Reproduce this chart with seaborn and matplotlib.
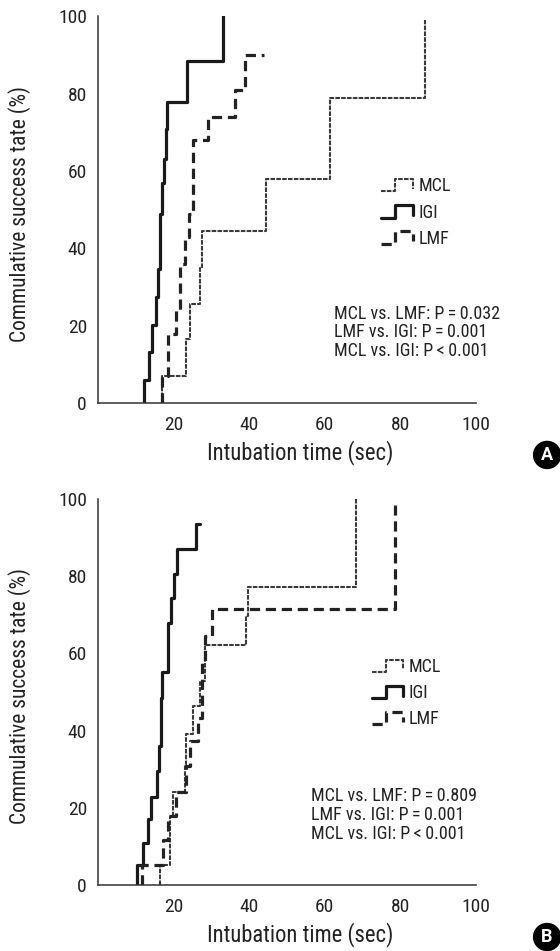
import numpy as np
import pandas as pd
import matplotlib
matplotlib.use("Agg")
import matplotlib.pyplot as plt
import seaborn as sns
from matplotlib.lines import Line2D
from matplotlib.legend_handler import HandlerBase

sns.set_theme(style="white")
plt.rcParams['font.family'] = ['Roboto Condensed', 'Liberation Sans Narrow', 'Roboto', 'DejaVu Sans']

# Panel A : temps (sec) et taux cumulés (%)
a_mcl_time = [16.8, 16.8, 23.4, 24.4, 26.9, 27.5, 44.5, 61.3, 86.6]
a_mcl_pct = [0, 7.0, 16.6, 25.7, 35.0, 44.4, 58.0, 78.8, 99.0]
a_igi_time = [12.2, 12.2, 13.5, 14.4, 15.3, 15.9, 16.4, 17.0, 17.5, 17.9, 18.3, 23.5, 33.1]
a_igi_pct = [0, 5.9, 13.2, 20.1, 27.4, 34.7, 48.9, 56.9, 63.1, 70.9, 77.9, 88.5, 100]
a_lmf_time = [17.0, 17.0, 18.5, 20.7, 21.6, 22.9, 24.1, 25.0, 29.1, 36.3, 39.0, 43.8]
a_lmf_pct = [0, 7.0, 18.0, 24.0, 36.0, 43.0, 49.0, 68.0, 74.0, 81.0, 90.0, 90.0]

# Panel B
b_mcl_time = [16.5, 16.5, 19.1, 19.8, 23.0, 23.3, 25.0, 26.9, 28.2, 39.1, 39.7, 68.2]
b_mcl_pct = [0, 5.2, 17.7, 24.2, 31.1, 39.0, 46.3, 52.9, 62.2, 69.6, 77.2, 100]
b_igi_time = [10.4, 10.4, 11.9, 13.1, 13.9, 15.6, 16.1, 16.6, 17.0, 18.5, 19.2, 20.1, 21.0, 26.0, 27.1]
b_igi_pct = [0, 5.2, 11.0, 17.0, 22.9, 29.4, 35.9, 48.4, 55.1, 67.8, 74.3, 80.6, 87.1, 93.6, 93.6]
b_lmf_time = [11.7, 11.7, 17.2, 18.5, 20.7, 23.4, 24.3, 26.5, 27.6, 28.2, 30.2, 78.5]
b_lmf_pct = [0, 5.2, 11.7, 18.0, 24.2, 30.7, 37.2, 43.2, 57.5, 64.4, 71.5, 98.5]

groups = ["MCL", "IGI", "LMF"]
pvals_a = ["MCL vs. LMF: P\u2009=\u20090.032", "LMF vs. IGI: P\u2009=\u20090.001", "MCL vs. IGI: P\u2009<\u20090.001"]
pvals_b = ["MCL vs. LMF: P\u2009=\u20090.809", "LMF vs. IGI: P\u2009=\u20090.001", "MCL vs. IGI: P\u2009<\u20090.001"]

styles = {
    "MCL": dict(color="#3a3a3a", linewidth=1.5, linestyle=(0, (2.2, 0.6))),
    "IGI": dict(color="#1a1a1a", linewidth=2.3, linestyle="-"),
    "LMF": dict(color="#222222", linewidth=2.3, linestyle=(0, (3.2, 1.8))),
}


class StepHandler(HandlerBase):
    # petit escalier dans la légende
    def create_artists(self, legend, orig_handle, xdescent, ydescent, width, height, fontsize, trans):
        xs = np.array([0, 0.45, 0.45, 1, 1]) * width - xdescent
        ys = np.array([0.05, 0.05, 0.95, 0.95, 0.25]) * height - ydescent
        line = Line2D(xs, ys)
        self.update_prop(line, orig_handle, legend)
        line.set_transform(trans)
        return [line]


def draw_panel(ax, data, pvals, ptext_xy, leg_anchor):
    handles = []
    for g in groups:
        t, p = data[g]
        df = pd.DataFrame({"time": t, "pct": p})
        sns.lineplot(data=df, x="time", y="pct", ax=ax, estimator=None, sort=False,
                     drawstyle="steps-post", label=g, **styles[g])
        handles.append(ax.get_lines()[-1])
    ax.set_xlim(0, 100)
    ax.set_ylim(0, 100)
    ax.set_xticks([20, 40, 60, 80, 100])
    ax.set_yticks([0, 20, 40, 60, 80, 100])
    for s in ["top", "right"]:
        ax.spines[s].set_visible(False)
    for s in ["left", "bottom"]:
        ax.spines[s].set_color("#333333")
        ax.spines[s].set_linewidth(1.1)
    ax.tick_params(axis="x", direction="in", length=6, width=1, color="#333333",
                   labelsize=14, pad=9, labelcolor="#222222")
    ax.tick_params(axis="y", direction="in", length=4, width=1, color="#333333",
                   labelsize=14, pad=8, labelcolor="#222222")
    ax.set_xlabel("Intubation time (sec)", fontsize=16.3, color="#222222")
    ax.set_ylabel("Commulative success tate (%)", fontsize=15.5, color="#222222")
    ax.xaxis.set_label_coords(0.535, -0.095)
    ax.yaxis.set_label_coords(-0.178, 0.49)
    leg = ax.legend(handles=handles, labels=groups, handler_map={h: StepHandler() for h in handles},
                    loc="upper left", bbox_to_anchor=leg_anchor, frameon=False, fontsize=13,
                    handlelength=1.75, handleheight=0.8, handletextpad=0.3, labelspacing=0.45,
                    borderaxespad=0)
    for txt in leg.get_texts():
        txt.set_color("#222222")
    ax.text(ptext_xy[0], ptext_xy[1], "\n".join(pvals), fontsize=13, va="top", ha="left",
            linespacing=1.05, color="#222222")


fig = plt.figure(figsize=(5.6, 9.51), dpi=100)
ax_a = fig.add_axes([0.175, 0.576, 0.675, 0.407])
ax_b = fig.add_axes([0.175, 0.0694, 0.675, 0.406])

draw_panel(ax_a, {"MCL": (a_mcl_time, a_mcl_pct), "IGI": (a_igi_time, a_igi_pct),
                  "LMF": (a_lmf_time, a_lmf_pct)},
           pvals_a, (62.4, 25.5), (0.73, 0.602))
draw_panel(ax_b, {"MCL": (b_mcl_time, b_mcl_pct), "IGI": (b_igi_time, b_igi_pct),
                  "LMF": (b_lmf_time, b_lmf_pct)},
           pvals_b, (56.4, 25.3), (0.705, 0.606))

for lab, y in [("A", 0.5216), ("B", 0.0147)]:
    fig.text(0.977, y, lab, fontsize=13, fontweight="bold", color="white", ha="center", va="center",
             family=["Roboto", "DejaVu Sans"],
             bbox=dict(boxstyle="circle,pad=0.25", fc="black", ec="black"))

fig.savefig("out.png", dpi=100)
